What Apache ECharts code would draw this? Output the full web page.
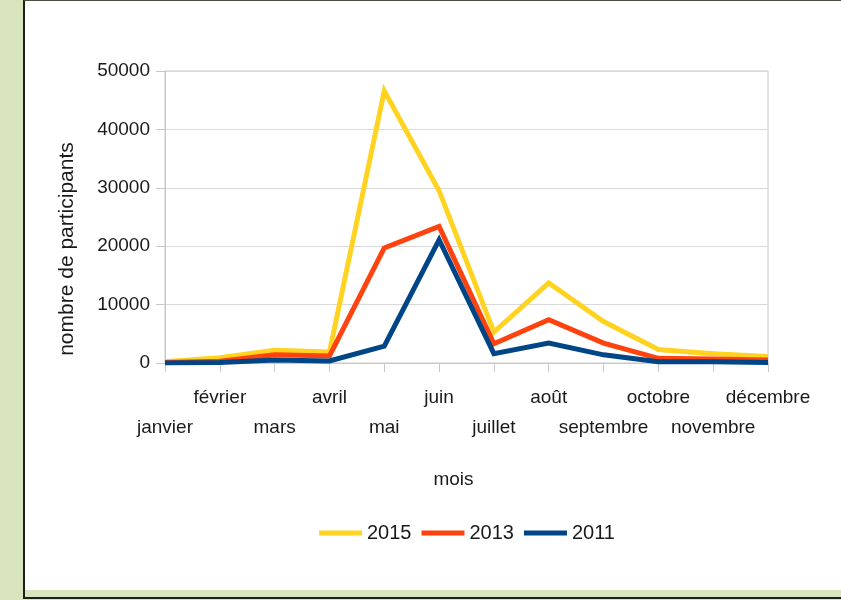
<!DOCTYPE html>
<html>
<head>
<meta charset="utf-8">
<script src="https://cdn.jsdelivr.net/npm/echarts@6/dist/echarts.min.js"></script>
<style>
  html, body { margin: 0; padding: 0; }
  body { width: 841px; height: 600px; background: #d8e4bc; position: relative; overflow: hidden; }
  #frame {
    position: absolute; left: 23px; top: 0; width: 820px; height: 596px;
    border-left: 2px solid #1e1e1e; border-top: 1px solid #4a5040; border-bottom: 2px solid #1e1e1e;
    background: #d8e4bc;
  }
  #panel { position: absolute; left: 25px; top: 1px; width: 816px; height: 589px; background: #fff; }
  #chart { position: absolute; left: 0; top: 0; width: 841px; height: 600px; }
</style>
</head>
<body>
<div id="frame"></div>
<div id="panel"></div>
<div id="chart"></div>
<script>
const months = ['janvier', 'février', 'mars', 'avril', 'mai', 'juin', 'juillet', 'août', 'septembre', 'octobre', 'novembre', 'décembre'];
const yTicks = [0, 10000, 20000, 30000, 40000, 50000];
const v2015 = [200, 900, 2200, 1900, 46600, 29500, 5300, 13700, 7100, 2300, 1600, 1100];
const v2013 = [100, 300, 1400, 1200, 19700, 23400, 3300, 7400, 3400, 800, 700, 500];
const v2011 = [0, 100, 500, 350, 2900, 21100, 1600, 3400, 1400, 200, 200, 100];

const FONT = "'Liberation Sans', Arial, sans-serif";
const TEXT = '#1a1a1a';
const AXIS = '#c8c8c8';

const chart = echarts.init(document.getElementById('chart'), null, { renderer: 'canvas' });

function line(name, data, color) {
  return {
    name,
    type: 'line',
    data,
    symbol: 'none',
    lineStyle: { color, width: 5, join: 'miter' },
    itemStyle: { color },
  };
}

chart.setOption({
  backgroundColor: 'transparent',
  animation: false,
  textStyle: { fontFamily: FONT },
  grid: {
    left: 165, right: 73, top: 71, bottom: 237,
    show: true, borderColor: AXIS, borderWidth: 1,
  },
  legend: {
    left: 314, top: 518,
    icon: 'rect',
    itemWidth: 43, itemHeight: 5, itemGap: 10,
    textStyle: { fontFamily: FONT, fontSize: 20, color: TEXT },
    data: ['2015', '2013', '2011'],
  },
  xAxis: {
    type: 'category',
    data: months,
    boundaryGap: false,
    name: 'mois',
    nameLocation: 'middle',
    nameGap: 107,
    nameTextStyle: { fontFamily: FONT, fontSize: 19, color: TEXT, padding: [0, 26, 0, 0] },
    axisLine: { lineStyle: { color: AXIS } },
    axisTick: { show: true, length: 9, interval: 0, lineStyle: { color: AXIS } },
    splitLine: { show: false },
    axisLabel: {
      interval: 0,
      margin: 20,
      fontSize: 19,
      lineHeight: 30,
      color: TEXT,
      fontFamily: FONT,
      formatter: (v, i) => (i % 2 === 0 ? '\n' + v : v),
    },
  },
  yAxis: {
    type: 'value',
    min: 0, max: 50000, interval: 10000,
    name: 'nombre de participants',
    nameLocation: 'middle',
    nameGap: 87,
    nameTextStyle: { fontFamily: FONT, fontSize: 21, color: TEXT, padding: [0, 64, 0, 0] },
    axisLine: { show: true, lineStyle: { color: AXIS } },
    axisTick: { show: true, length: 9, lineStyle: { color: AXIS } },
    splitLine: { lineStyle: { color: '#d9d9d9' } },
    axisLabel: {
      margin: 15,
      fontSize: 19,
      color: TEXT,
      fontFamily: FONT,
      formatter: (v) => (yTicks.includes(v) ? String(v) : ''),
    },
  },
  series: [
    line('2015', v2015, '#ffd320'),
    line('2013', v2013, '#ff420e'),
    line('2011', v2011, '#004586'),
  ],
});
</script>
</body>
</html>
